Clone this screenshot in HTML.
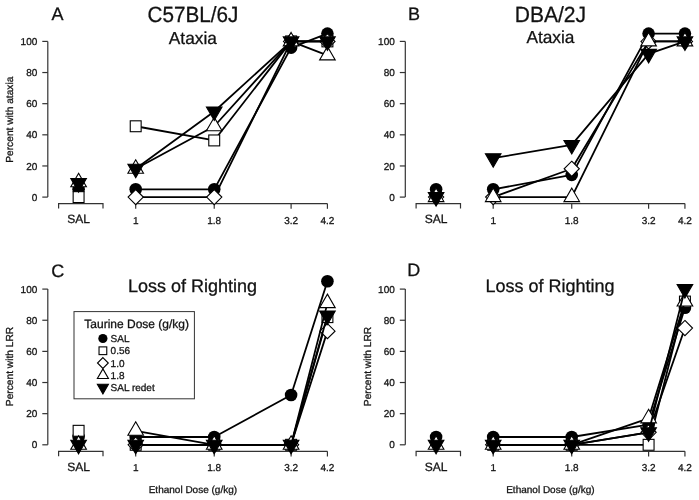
<!DOCTYPE html>
<html><head><meta charset="utf-8"><style>
html,body{margin:0;padding:0;background:#fff;}
svg{display:block;will-change:transform;}
text{font-family:"Liberation Sans", sans-serif;text-rendering:geometricPrecision;stroke:#1a1a1a;stroke-width:0.3px;}
</style></head><body>
<svg width="699" height="500" viewBox="0 0 699 500">
<rect width="699" height="500" fill="#fff"/>
<g transform="translate(0,0)">
<g stroke="#333" stroke-width="1.2" fill="none">
<path d="M47.8 41.4V197.1"/>
<path d="M42.3 197.1H47.8"/>
<path d="M42.3 165.96H47.8"/>
<path d="M42.3 134.82H47.8"/>
<path d="M42.3 103.68H47.8"/>
<path d="M42.3 72.54H47.8"/>
<path d="M42.3 41.4H47.8"/>
<path d="M135.7 203.6H327.43"/>
<path d="M135.7 203.6V208.8"/>
<path d="M214.23 203.6V208.8"/>
<path d="M291.1 203.6V208.8"/>
<path d="M327.43 203.6V208.8"/>
<path d="M58.6 208.6V203.6H103V208.6"/>
</g>
<g fill="#111" font-family="Liberation Sans">
<text x="37.3" y="200.7" font-size="10" text-anchor="end">0</text>
<text x="37.3" y="169.56" font-size="10" text-anchor="end">20</text>
<text x="37.3" y="138.42" font-size="10" text-anchor="end">40</text>
<text x="37.3" y="107.28" font-size="10" text-anchor="end">60</text>
<text x="37.3" y="76.14" font-size="10" text-anchor="end">80</text>
<text x="37.3" y="45" font-size="10" text-anchor="end">100</text>
<text x="135.7" y="223.6" font-size="10" text-anchor="middle">1</text>
<text x="214.23" y="223.6" font-size="10" text-anchor="middle">1.8</text>
<text x="291.1" y="223.6" font-size="10" text-anchor="middle">3.2</text>
<text x="327.43" y="223.6" font-size="10" text-anchor="middle">4.2</text>
<text x="78.6" y="223" font-size="12" text-anchor="middle">SAL</text>
</g>
<polyline points="135.7,189.31 214.23,189.31 291.1,47.63 327.43,33.62" fill="none" stroke="#000" stroke-width="1.8" stroke-linejoin="round"/>
<circle cx="135.7" cy="189.31" r="6.3" fill="#000"/>
<circle cx="214.23" cy="189.31" r="6.3" fill="#000"/>
<circle cx="291.1" cy="47.63" r="6.3" fill="#000"/>
<circle cx="327.43" cy="33.62" r="6.3" fill="#000"/>
<circle cx="78.6" cy="189.31" r="6.3" fill="#000"/>
<polyline points="135.7,126.26 214.23,140.43 291.1,41.4 327.43,41.4" fill="none" stroke="#000" stroke-width="1.8" stroke-linejoin="round"/>
<rect x="130.25" y="120.81" width="10.9" height="10.9" fill="#fff" stroke="#000" stroke-width="1.1"/>
<rect x="208.78" y="134.98" width="10.9" height="10.9" fill="#fff" stroke="#000" stroke-width="1.1"/>
<rect x="285.65" y="35.95" width="10.9" height="10.9" fill="#fff" stroke="#000" stroke-width="1.1"/>
<rect x="321.98" y="35.95" width="10.9" height="10.9" fill="#fff" stroke="#000" stroke-width="1.1"/>
<rect x="73.15" y="191.65" width="10.9" height="10.9" fill="#fff" stroke="#000" stroke-width="1.1"/>
<polyline points="135.7,197.1 214.23,197.1 291.1,41.4 327.43,41.4" fill="none" stroke="#000" stroke-width="1.8" stroke-linejoin="round"/>
<path d="M135.7 189.5L143.3 197.1L135.7 204.7L128.1 197.1Z" fill="#fff" stroke="#000" stroke-width="1.1"/>
<path d="M214.23 189.5L221.83 197.1L214.23 204.7L206.63 197.1Z" fill="#fff" stroke="#000" stroke-width="1.1"/>
<path d="M291.1 33.8L298.7 41.4L291.1 49L283.5 41.4Z" fill="#fff" stroke="#000" stroke-width="1.1"/>
<path d="M327.43 33.8L335.03 41.4L327.43 49L319.83 41.4Z" fill="#fff" stroke="#000" stroke-width="1.1"/>
<polyline points="135.7,168.76 214.23,126.26 291.1,41.4 327.43,55.41" fill="none" stroke="#000" stroke-width="1.8" stroke-linejoin="round"/>
<path d="M135.7 159.76L143.49 173.26L127.91 173.26Z" fill="#fff" stroke="#000" stroke-width="1.1" stroke-linejoin="miter"/>
<path d="M214.23 117.26L222.02 130.76L206.43 130.76Z" fill="#fff" stroke="#000" stroke-width="1.1" stroke-linejoin="miter"/>
<path d="M291.1 32.4L298.89 45.9L283.3 45.9Z" fill="#fff" stroke="#000" stroke-width="1.1" stroke-linejoin="miter"/>
<path d="M327.43 46.41L335.22 59.91L319.63 59.91Z" fill="#fff" stroke="#000" stroke-width="1.1" stroke-linejoin="miter"/>
<path d="M78.6 173.31L86.39 186.81L70.81 186.81Z" fill="#fff" stroke="#000" stroke-width="1.1" stroke-linejoin="miter"/>
<polyline points="135.7,168.76 214.23,111.46 291.1,41.4 327.43,41.4" fill="none" stroke="#000" stroke-width="1.8" stroke-linejoin="round"/>
<path d="M135.7 177.76L143.49 164.26L127.91 164.26Z" fill="#000" stroke="#000" stroke-width="1.1"/>
<path d="M214.23 120.46L222.02 106.96L206.43 106.96Z" fill="#000" stroke="#000" stroke-width="1.1"/>
<path d="M291.1 50.4L298.89 36.9L283.3 36.9Z" fill="#000" stroke="#000" stroke-width="1.1"/>
<path d="M327.43 50.4L335.22 36.9L319.63 36.9Z" fill="#000" stroke="#000" stroke-width="1.1"/>
<path d="M78.6 192.09L86.39 178.59L70.81 178.59Z" fill="#000" stroke="#000" stroke-width="1.1"/>
</g>
<g transform="translate(357.5,0)">
<g stroke="#333" stroke-width="1.2" fill="none">
<path d="M47.8 41.4V197.1"/>
<path d="M42.3 197.1H47.8"/>
<path d="M42.3 165.96H47.8"/>
<path d="M42.3 134.82H47.8"/>
<path d="M42.3 103.68H47.8"/>
<path d="M42.3 72.54H47.8"/>
<path d="M42.3 41.4H47.8"/>
<path d="M135.7 203.6H327.43"/>
<path d="M135.7 203.6V208.8"/>
<path d="M214.23 203.6V208.8"/>
<path d="M291.1 203.6V208.8"/>
<path d="M327.43 203.6V208.8"/>
<path d="M58.6 208.6V203.6H103V208.6"/>
</g>
<g fill="#111" font-family="Liberation Sans">
<text x="37.3" y="200.7" font-size="10" text-anchor="end">0</text>
<text x="37.3" y="169.56" font-size="10" text-anchor="end">20</text>
<text x="37.3" y="138.42" font-size="10" text-anchor="end">40</text>
<text x="37.3" y="107.28" font-size="10" text-anchor="end">60</text>
<text x="37.3" y="76.14" font-size="10" text-anchor="end">80</text>
<text x="37.3" y="45" font-size="10" text-anchor="end">100</text>
<text x="135.7" y="223.6" font-size="10" text-anchor="middle">1</text>
<text x="214.23" y="223.6" font-size="10" text-anchor="middle">1.8</text>
<text x="291.1" y="223.6" font-size="10" text-anchor="middle">3.2</text>
<text x="327.43" y="223.6" font-size="10" text-anchor="middle">4.2</text>
<text x="78.6" y="223" font-size="12" text-anchor="middle">SAL</text>
</g>
<polyline points="135.7,189.31 214.23,174.83 291.1,33.62 327.43,33.62" fill="none" stroke="#000" stroke-width="1.8" stroke-linejoin="round"/>
<circle cx="135.7" cy="189.31" r="6.3" fill="#000"/>
<circle cx="214.23" cy="174.83" r="6.3" fill="#000"/>
<circle cx="291.1" cy="33.62" r="6.3" fill="#000"/>
<circle cx="327.43" cy="33.62" r="6.3" fill="#000"/>
<circle cx="78.6" cy="189.31" r="6.3" fill="#000"/>
<polyline points="135.7,197.1 214.23,168.76 291.1,41.4 327.43,41.4" fill="none" stroke="#000" stroke-width="1.8" stroke-linejoin="round"/>
<path d="M135.7 189.5L143.3 197.1L135.7 204.7L128.1 197.1Z" fill="#fff" stroke="#000" stroke-width="1.1"/>
<path d="M214.23 161.16L221.83 168.76L214.23 176.36L206.63 168.76Z" fill="#fff" stroke="#000" stroke-width="1.1"/>
<path d="M291.1 33.8L298.7 41.4L291.1 49L283.5 41.4Z" fill="#fff" stroke="#000" stroke-width="1.1"/>
<path d="M327.43 33.8L335.03 41.4L327.43 49L319.83 41.4Z" fill="#fff" stroke="#000" stroke-width="1.1"/>
<path d="M78.6 189.5L86.2 197.1L78.6 204.7L71 197.1Z" fill="#fff" stroke="#000" stroke-width="1.1"/>
<polyline points="135.7,197.1 214.23,197.1 291.1,41.4 327.43,41.4" fill="none" stroke="#000" stroke-width="1.8" stroke-linejoin="round"/>
<path d="M135.7 188.1L143.49 201.6L127.91 201.6Z" fill="#fff" stroke="#000" stroke-width="1.1" stroke-linejoin="miter"/>
<path d="M214.23 188.1L222.02 201.6L206.43 201.6Z" fill="#fff" stroke="#000" stroke-width="1.1" stroke-linejoin="miter"/>
<path d="M291.1 32.4L298.89 45.9L283.3 45.9Z" fill="#fff" stroke="#000" stroke-width="1.1" stroke-linejoin="miter"/>
<path d="M327.43 32.4L335.22 45.9L319.63 45.9Z" fill="#fff" stroke="#000" stroke-width="1.1" stroke-linejoin="miter"/>
<path d="M78.6 188.1L86.39 201.6L70.81 201.6Z" fill="#fff" stroke="#000" stroke-width="1.1" stroke-linejoin="miter"/>
<polyline points="135.7,158.18 214.23,144.94 291.1,53.86 327.43,41.4" fill="none" stroke="#000" stroke-width="1.8" stroke-linejoin="round"/>
<path d="M135.7 167.18L143.49 153.68L127.91 153.68Z" fill="#000" stroke="#000" stroke-width="1.1"/>
<path d="M214.23 153.94L222.02 140.44L206.43 140.44Z" fill="#000" stroke="#000" stroke-width="1.1"/>
<path d="M291.1 62.86L298.89 49.36L283.3 49.36Z" fill="#000" stroke="#000" stroke-width="1.1"/>
<path d="M327.43 50.4L335.22 36.9L319.63 36.9Z" fill="#000" stroke="#000" stroke-width="1.1"/>
<path d="M78.6 206.1L86.39 192.6L70.81 192.6Z" fill="#000" stroke="#000" stroke-width="1.1"/>
</g>
<g transform="translate(0,247.7)">
<g stroke="#333" stroke-width="1.2" fill="none">
<path d="M47.8 41.4V197.1"/>
<path d="M42.3 197.1H47.8"/>
<path d="M42.3 165.96H47.8"/>
<path d="M42.3 134.82H47.8"/>
<path d="M42.3 103.68H47.8"/>
<path d="M42.3 72.54H47.8"/>
<path d="M42.3 41.4H47.8"/>
<path d="M135.7 203.6H327.43"/>
<path d="M135.7 203.6V208.8"/>
<path d="M214.23 203.6V208.8"/>
<path d="M291.1 203.6V208.8"/>
<path d="M327.43 203.6V208.8"/>
<path d="M58.6 208.6V203.6H103V208.6"/>
</g>
<g fill="#111" font-family="Liberation Sans">
<text x="37.3" y="200.7" font-size="10" text-anchor="end">0</text>
<text x="37.3" y="169.56" font-size="10" text-anchor="end">20</text>
<text x="37.3" y="138.42" font-size="10" text-anchor="end">40</text>
<text x="37.3" y="107.28" font-size="10" text-anchor="end">60</text>
<text x="37.3" y="76.14" font-size="10" text-anchor="end">80</text>
<text x="37.3" y="45" font-size="10" text-anchor="end">100</text>
<text x="135.7" y="223.6" font-size="10" text-anchor="middle">1</text>
<text x="214.23" y="223.6" font-size="10" text-anchor="middle">1.8</text>
<text x="291.1" y="223.6" font-size="10" text-anchor="middle">3.2</text>
<text x="327.43" y="223.6" font-size="10" text-anchor="middle">4.2</text>
<text x="78.6" y="223" font-size="12" text-anchor="middle">SAL</text>
</g>
<polyline points="135.7,189.31 214.23,189.31 291.1,147.28 327.43,33.62" fill="none" stroke="#000" stroke-width="1.8" stroke-linejoin="round"/>
<circle cx="135.7" cy="189.31" r="6.3" fill="#000"/>
<circle cx="214.23" cy="189.31" r="6.3" fill="#000"/>
<circle cx="291.1" cy="147.28" r="6.3" fill="#000"/>
<circle cx="327.43" cy="33.62" r="6.3" fill="#000"/>
<circle cx="78.6" cy="189.31" r="6.3" fill="#000"/>
<polyline points="135.7,197.1 214.23,197.1 291.1,197.1 327.43,69.43" fill="none" stroke="#000" stroke-width="1.8" stroke-linejoin="round"/>
<rect x="130.25" y="191.65" width="10.9" height="10.9" fill="#fff" stroke="#000" stroke-width="1.1"/>
<rect x="208.78" y="191.65" width="10.9" height="10.9" fill="#fff" stroke="#000" stroke-width="1.1"/>
<rect x="285.65" y="191.65" width="10.9" height="10.9" fill="#fff" stroke="#000" stroke-width="1.1"/>
<rect x="321.98" y="63.98" width="10.9" height="10.9" fill="#fff" stroke="#000" stroke-width="1.1"/>
<rect x="73.15" y="177.64" width="10.9" height="10.9" fill="#fff" stroke="#000" stroke-width="1.1"/>
<polyline points="135.7,197.1 214.23,197.1 291.1,197.1 327.43,83.44" fill="none" stroke="#000" stroke-width="1.8" stroke-linejoin="round"/>
<path d="M135.7 189.5L143.3 197.1L135.7 204.7L128.1 197.1Z" fill="#fff" stroke="#000" stroke-width="1.1"/>
<path d="M214.23 189.5L221.83 197.1L214.23 204.7L206.63 197.1Z" fill="#fff" stroke="#000" stroke-width="1.1"/>
<path d="M291.1 189.5L298.7 197.1L291.1 204.7L283.5 197.1Z" fill="#fff" stroke="#000" stroke-width="1.1"/>
<path d="M327.43 75.84L335.03 83.44L327.43 91.04L319.83 83.44Z" fill="#fff" stroke="#000" stroke-width="1.1"/>
<polyline points="135.7,183.09 214.23,197.1 291.1,197.1 327.43,55.41" fill="none" stroke="#000" stroke-width="1.8" stroke-linejoin="round"/>
<path d="M135.7 174.09L143.49 187.59L127.91 187.59Z" fill="#fff" stroke="#000" stroke-width="1.1" stroke-linejoin="miter"/>
<path d="M214.23 188.1L222.02 201.6L206.43 201.6Z" fill="#fff" stroke="#000" stroke-width="1.1" stroke-linejoin="miter"/>
<path d="M291.1 188.1L298.89 201.6L283.3 201.6Z" fill="#fff" stroke="#000" stroke-width="1.1" stroke-linejoin="miter"/>
<path d="M327.43 46.41L335.22 59.91L319.63 59.91Z" fill="#fff" stroke="#000" stroke-width="1.1" stroke-linejoin="miter"/>
<path d="M78.6 188.1L86.39 201.6L70.81 201.6Z" fill="#fff" stroke="#000" stroke-width="1.1" stroke-linejoin="miter"/>
<polyline points="135.7,197.1 214.23,197.1 291.1,197.1 327.43,67.87" fill="none" stroke="#000" stroke-width="1.8" stroke-linejoin="round"/>
<path d="M135.7 206.1L143.49 192.6L127.91 192.6Z" fill="#000" stroke="#000" stroke-width="1.1"/>
<path d="M214.23 206.1L222.02 192.6L206.43 192.6Z" fill="#000" stroke="#000" stroke-width="1.1"/>
<path d="M291.1 206.1L298.89 192.6L283.3 192.6Z" fill="#000" stroke="#000" stroke-width="1.1"/>
<path d="M327.43 76.87L335.22 63.37L319.63 63.37Z" fill="#000" stroke="#000" stroke-width="1.1"/>
<path d="M78.6 206.1L86.39 192.6L70.81 192.6Z" fill="#000" stroke="#000" stroke-width="1.1"/>
</g>
<g transform="translate(357.5,247.7)">
<g stroke="#333" stroke-width="1.2" fill="none">
<path d="M47.8 41.4V197.1"/>
<path d="M42.3 197.1H47.8"/>
<path d="M42.3 165.96H47.8"/>
<path d="M42.3 134.82H47.8"/>
<path d="M42.3 103.68H47.8"/>
<path d="M42.3 72.54H47.8"/>
<path d="M42.3 41.4H47.8"/>
<path d="M135.7 203.6H327.43"/>
<path d="M135.7 203.6V208.8"/>
<path d="M214.23 203.6V208.8"/>
<path d="M291.1 203.6V208.8"/>
<path d="M327.43 203.6V208.8"/>
<path d="M58.6 208.6V203.6H103V208.6"/>
</g>
<g fill="#111" font-family="Liberation Sans">
<text x="37.3" y="200.7" font-size="10" text-anchor="end">0</text>
<text x="37.3" y="169.56" font-size="10" text-anchor="end">20</text>
<text x="37.3" y="138.42" font-size="10" text-anchor="end">40</text>
<text x="37.3" y="107.28" font-size="10" text-anchor="end">60</text>
<text x="37.3" y="76.14" font-size="10" text-anchor="end">80</text>
<text x="37.3" y="45" font-size="10" text-anchor="end">100</text>
<text x="135.7" y="223.6" font-size="10" text-anchor="middle">1</text>
<text x="214.23" y="223.6" font-size="10" text-anchor="middle">1.8</text>
<text x="291.1" y="223.6" font-size="10" text-anchor="middle">3.2</text>
<text x="327.43" y="223.6" font-size="10" text-anchor="middle">4.2</text>
<text x="78.6" y="223" font-size="12" text-anchor="middle">SAL</text>
</g>
<polyline points="135.7,189.31 214.23,189.31 291.1,176.86 327.43,60.08" fill="none" stroke="#000" stroke-width="1.8" stroke-linejoin="round"/>
<circle cx="135.7" cy="189.31" r="6.3" fill="#000"/>
<circle cx="214.23" cy="189.31" r="6.3" fill="#000"/>
<circle cx="291.1" cy="176.86" r="6.3" fill="#000"/>
<circle cx="327.43" cy="60.08" r="6.3" fill="#000"/>
<circle cx="78.6" cy="189.31" r="6.3" fill="#000"/>
<polyline points="135.7,197.1 214.23,197.1 291.1,197.1 327.43,53.86" fill="none" stroke="#000" stroke-width="1.8" stroke-linejoin="round"/>
<rect x="130.25" y="191.65" width="10.9" height="10.9" fill="#fff" stroke="#000" stroke-width="1.1"/>
<rect x="208.78" y="191.65" width="10.9" height="10.9" fill="#fff" stroke="#000" stroke-width="1.1"/>
<rect x="285.65" y="191.65" width="10.9" height="10.9" fill="#fff" stroke="#000" stroke-width="1.1"/>
<rect x="321.98" y="48.41" width="10.9" height="10.9" fill="#fff" stroke="#000" stroke-width="1.1"/>
<polyline points="135.7,197.1 214.23,197.1 291.1,184.64 327.43,80.32" fill="none" stroke="#000" stroke-width="1.8" stroke-linejoin="round"/>
<path d="M135.7 189.5L143.3 197.1L135.7 204.7L128.1 197.1Z" fill="#fff" stroke="#000" stroke-width="1.1"/>
<path d="M214.23 189.5L221.83 197.1L214.23 204.7L206.63 197.1Z" fill="#fff" stroke="#000" stroke-width="1.1"/>
<path d="M291.1 177.04L298.7 184.64L291.1 192.24L283.5 184.64Z" fill="#fff" stroke="#000" stroke-width="1.1"/>
<path d="M327.43 72.72L335.03 80.32L327.43 87.92L319.83 80.32Z" fill="#fff" stroke="#000" stroke-width="1.1"/>
<polyline points="135.7,197.1 214.23,197.1 291.1,170.63 327.43,53.86" fill="none" stroke="#000" stroke-width="1.8" stroke-linejoin="round"/>
<path d="M135.7 188.1L143.49 201.6L127.91 201.6Z" fill="#fff" stroke="#000" stroke-width="1.1" stroke-linejoin="miter"/>
<path d="M214.23 188.1L222.02 201.6L206.43 201.6Z" fill="#fff" stroke="#000" stroke-width="1.1" stroke-linejoin="miter"/>
<path d="M291.1 161.63L298.89 175.13L283.3 175.13Z" fill="#fff" stroke="#000" stroke-width="1.1" stroke-linejoin="miter"/>
<path d="M327.43 44.86L335.22 58.36L319.63 58.36Z" fill="#fff" stroke="#000" stroke-width="1.1" stroke-linejoin="miter"/>
<path d="M78.6 188.1L86.39 201.6L70.81 201.6Z" fill="#fff" stroke="#000" stroke-width="1.1" stroke-linejoin="miter"/>
<polyline points="135.7,197.1 214.23,197.1 291.1,184.64 327.43,41.4" fill="none" stroke="#000" stroke-width="1.8" stroke-linejoin="round"/>
<path d="M135.7 206.1L143.49 192.6L127.91 192.6Z" fill="#000" stroke="#000" stroke-width="1.1"/>
<path d="M214.23 206.1L222.02 192.6L206.43 192.6Z" fill="#000" stroke="#000" stroke-width="1.1"/>
<path d="M291.1 193.64L298.89 180.14L283.3 180.14Z" fill="#000" stroke="#000" stroke-width="1.1"/>
<path d="M327.43 50.4L335.22 36.9L319.63 36.9Z" fill="#000" stroke="#000" stroke-width="1.1"/>
<path d="M78.6 206.1L86.39 192.6L70.81 192.6Z" fill="#000" stroke="#000" stroke-width="1.1"/>
</g>
<g fill="#111" font-family="Liberation Sans">
<text x="51.6" y="19.8" font-size="18" text-anchor="start">A</text>
<text x="408" y="20" font-size="18" text-anchor="start">B</text>
<text x="51.2" y="276.5" font-size="18" text-anchor="start">C</text>
<text x="407.2" y="276.4" font-size="18" text-anchor="start">D</text>
<text transform="translate(192.95,22.2) scale(0.94,1)" font-size="22" text-anchor="middle">C57BL/6J</text>
<text x="192.85" y="43.6" font-size="17.3" text-anchor="middle">Ataxia</text>
<text transform="translate(550.4,22.0) scale(0.958,1)" font-size="22" text-anchor="middle">DBA/2J</text>
<text x="550.4" y="43" font-size="17.3" text-anchor="middle">Ataxia</text>
<text x="192.6" y="291.6" font-size="18" text-anchor="middle">Loss of Righting</text>
<text x="550.1" y="291.6" font-size="18" text-anchor="middle">Loss of Righting</text>
<text x="192.9" y="492.9" font-size="10" text-anchor="middle">Ethanol Dose (g/kg)</text>
<text x="550.4" y="492.9" font-size="10" text-anchor="middle">Ethanol Dose (g/kg)</text>
<text transform="translate(13.2,119.7) rotate(-90)" font-size="10.2" text-anchor="middle">Percent with ataxia</text>
<text transform="translate(13.2,366.5) rotate(-90)" font-size="10.2" text-anchor="middle">Percent with LRR</text>
<text transform="translate(370.7,366.5) rotate(-90)" font-size="10.2" text-anchor="middle">Percent with LRR</text>
</g>
<rect x="74" y="311.6" width="120.4" height="87.2" fill="#fff" stroke="#333" stroke-width="1"/>
<g fill="#111" font-family="Liberation Sans">
<text x="84.3" y="328.2" font-size="12" text-anchor="start">Taurine Dose (g/kg)</text>
<text x="110.6" y="342" font-size="10" text-anchor="start">SAL</text>
<text x="110.6" y="354.25" font-size="10" text-anchor="start">0.56</text>
<text x="110.6" y="366.5" font-size="10" text-anchor="start">1.0</text>
<text x="110.6" y="378.75" font-size="10" text-anchor="start">1.8</text>
<text x="110.6" y="391" font-size="10" text-anchor="start">SAL redet</text>
</g>
<circle cx="102.9" cy="338.5" r="4.59" fill="#000"/>
<rect x="99.03" y="346.88" width="7.74" height="7.74" fill="#fff" stroke="#000" stroke-width="1.1"/>
<path d="M102.9 357.6L108.3 363L102.9 368.4L97.5 363Z" fill="#fff" stroke="#000" stroke-width="1.1"/>
<path d="M102.9 368.86L108.43 378.44L97.37 378.44Z" fill="#fff" stroke="#000" stroke-width="1.1" stroke-linejoin="miter"/>
<path d="M102.9 393.89L108.43 384.31L97.37 384.31Z" fill="#000" stroke="#000" stroke-width="1.1"/>
</svg>
</body></html>
